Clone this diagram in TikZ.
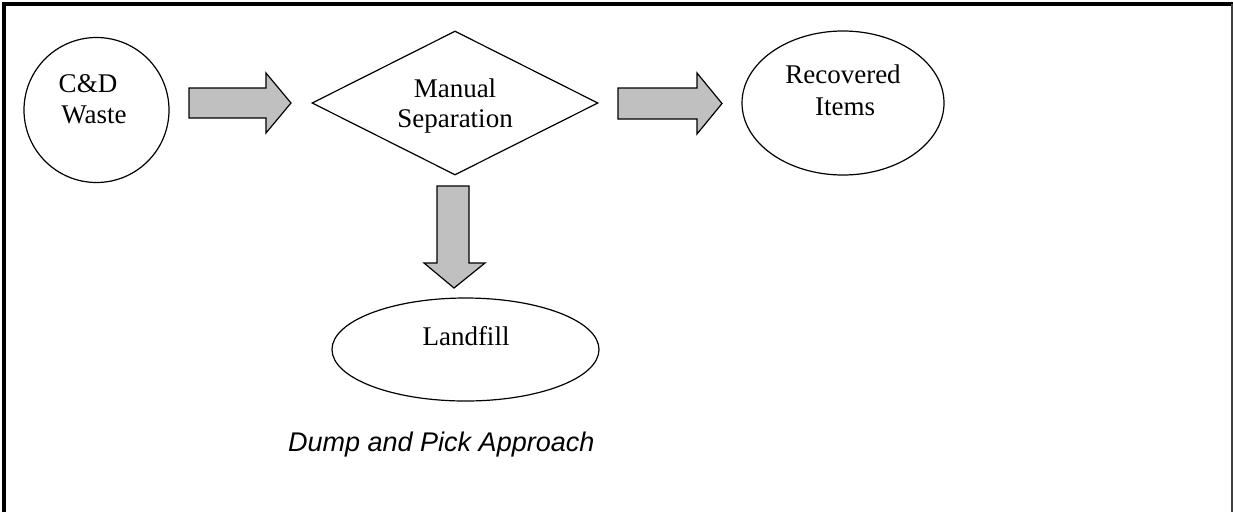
\documentclass[tikz,border=0pt]{standalone}
\usepackage{fontspec}
\setmainfont{Liberation Serif}
\newfontfamily\capfont{Liberation Sans}
\usetikzlibrary{shapes.geometric,calc}
\definecolor{arrowgray}{HTML}{C0C0C0}
\definecolor{framedark}{HTML}{404040}
\tikzset{
  shapebox/.style={draw=black, line width=1.2pt, inner sep=0pt, fill=white},
  blockarrow/.style={draw=black, line width=1.2pt, fill=arrowgray, line join=miter},
  lbl/.style={font=\fontsize{27}{31}\selectfont, align=center, inner sep=0pt, anchor=base},
  caption/.style={font=\fontsize{27}{30}\selectfont\capfont\itshape, inner sep=0pt, anchor=base west}
}
\begin{document}
\begin{tikzpicture}[x=1pt,y=-1pt]
\useasboundingbox (0,0) rectangle (1233,512);
% frame
\draw[line width=4pt] (4,512) -- (4,4) -- (1233,4);
\draw[line width=1.5pt, framedark] (1232,4) -- (1232,512);
% shapes
\node[shapebox, circle, minimum size=145pt] (cd) at (96.5,110) {};
\node[shapebox, diamond, minimum width=286pt, minimum height=144pt] (ms) at (455,103) {};
\node[shapebox, ellipse, minimum width=202pt, minimum height=144pt] (ri) at (843,103) {};
\node[shapebox, ellipse, minimum width=267pt, minimum height=103pt] (lf) at (465.5,349.5) {};
% texts
\node[lbl] (cdt1) at (88,92) {C\&D};
\node[lbl] (cdt2) at (94,123) {Waste};
\node[lbl] (mst1) at (455,97) {Manual};
\node[lbl] (mst2) at (455,127) {Separation};
\node[lbl] (rit1) at (843,83) {Recovered};
\node[lbl] (rit2) at (845,115) {Items};
\node[lbl] (lft) at (466,345) {Landfill};
% block arrows (tail and tip coordinates)
\coordinate (a1tail) at (189,103);
\coordinate (a1tip) at (291,103);
\coordinate (a2tail) at (618,103.5);
\coordinate (a2tip) at (722,103.5);
\coordinate (a3tail) at (453,186);
\coordinate (a3tip) at (454,288);
\draw[blockarrow] ($(a1tail)+(0,-15)$) -- ($(a1tip)+(-25,-15)$) -- ($(a1tip)+(-25,-30)$) -- (a1tip)
  -- ($(a1tip)+(-25,30)$) -- ($(a1tip)+(-25,15)$) -- ($(a1tail)+(0,15)$) -- cycle;
\draw[blockarrow] ($(a2tail)+(0,-15.5)$) -- ($(a2tip)+(-25,-15.5)$) -- ($(a2tip)+(-25,-30.5)$) -- (a2tip)
  -- ($(a2tip)+(-25,30.5)$) -- ($(a2tip)+(-25,15.5)$) -- ($(a2tail)+(0,15.5)$) -- cycle;
\draw[blockarrow] ($(a3tail)+(-16,0)$) -- ($(a3tail)+(16,0)$) -- ($(a3tip)+(15,-25)$) -- ($(a3tip)+(31,-25)$)
  -- (a3tip) -- ($(a3tip)+(-30,-25)$) -- ($(a3tip)+(-17,-25)$) -- cycle;
% caption
\node[caption] (cap) at (288,451) {Dump and Pick Approach};
\end{tikzpicture}
\end{document}
